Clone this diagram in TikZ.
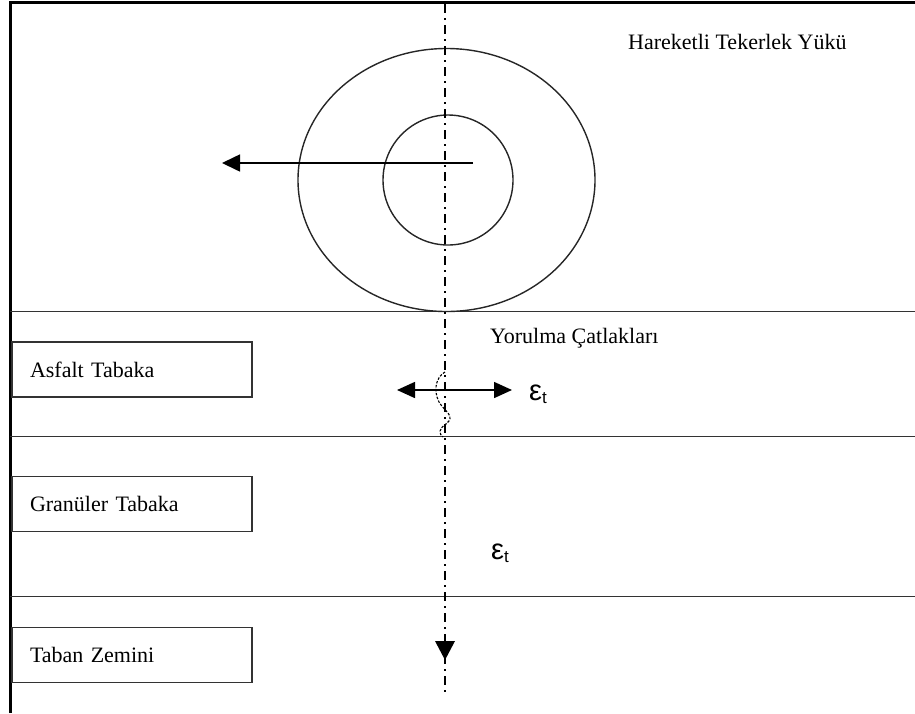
\documentclass[tikz,border=0pt]{standalone}
\usepackage{fontspec}
\setmainfont{Liberation Serif}
\newfontfamily\epsfont{Liberation Sans}
\usetikzlibrary{arrows.meta,shapes.geometric}
\tikzset{
  lbl/.style={anchor=base west, inner sep=0pt, font=\fontsize{22}{26}\selectfont},
  layerbox/.style={draw=black!80, line width=1.8pt, minimum width=240pt, minimum height=55pt,
    inner xsep=18pt, inner ysep=0pt, text width=204pt, align=left, font=\fontsize{22}{26}\selectfont},
  layerline/.style={draw=black!80, line width=1.8pt},
  frameline/.style={draw=black, line width=3pt},
  axisline/.style={draw=black, line width=1.1pt, dash pattern=on 9pt off 5pt on 2pt off 5pt},
  wheelline/.style={draw=black!85, line width=1.4pt},
  arr/.style={line width=1.6pt, -{Triangle[length=18pt,width=17pt]}},
  darr/.style={line width=1.6pt, {Triangle[length=18pt,width=16pt]}-{Triangle[length=18pt,width=16pt]}},
  crack/.style={draw=black, line width=1.1pt, dash pattern=on 2.5pt off 1.5pt},
  epslbl/.style={anchor=base west, inner sep=0pt, font=\epsfont\fontsize{29}{32}\selectfont}
}
\begin{document}
\begin{tikzpicture}[x=1pt,y=-1pt]
\useasboundingbox (0,0) rectangle (915,713);
% frame
\draw[frameline] (10,713) -- (10,2.5) -- (915,2.5);
% layer lines
\coordinate (l1w) at (10,311.5); \coordinate (l1e) at (915,311.5);
\coordinate (l2w) at (10,436.5); \coordinate (l2e) at (915,436.5);
\coordinate (l3w) at (10,596.5); \coordinate (l3e) at (915,596.5);
\draw[layerline] (l1w) -- (l1e);
\draw[layerline] (l2w) -- (l2e);
\draw[layerline] (l3w) -- (l3e);
% wheel
\node[wheelline, ellipse, minimum width=297pt, minimum height=263pt, inner sep=0pt] (wheel) at (446.5,180) {};
\node[wheelline, circle, minimum size=130pt, inner sep=0pt] (hub) at (448,180) {};
\coordinate (mvA) at (473,163);
\coordinate (mvB) at (222,163);
\draw[arr] (mvA) -- (mvB);
% axis
\coordinate (axT) at (445,4);
\coordinate (axB) at (445,692);
\draw[axisline] (axT) -- (axB);
\fill (435,641) -- (455,641) -- (445,660) -- cycle;
% texts
\node[lbl] (load) at (628,49) {Hareketli Tekerlek Yükü};
\node[lbl] (crk) at (490,343) {Yorulma Çatlakları};
% layer boxes
\node[layerbox] (asf) at (132,369.5) {Asfalt Tabaka};
\node[layerbox] (gra) at (132,504) {Granüler Tabaka};
\node[layerbox] (tab) at (132,655) {Taban Zemini};
% crack
\draw[crack] (445,372) .. controls (436,377) and (433,390) .. (439,402)
  .. controls (445,412) and (456,416) .. (446,424)
  .. controls (438,429) and (439,434) .. (443,437);
% strain arrows
\coordinate (sL) at (397,390);
\coordinate (sR) at (512,390);
\draw[darr] (sL) -- (sR);
\node[epslbl] (eps1) at (529,400) {ε\raisebox{-3pt}{\fontsize{17}{18}\selectfont t}};
\node[epslbl] (eps2) at (491,559) {ε\raisebox{-3pt}{\fontsize{17}{18}\selectfont t}};
\end{tikzpicture}
\end{document}
